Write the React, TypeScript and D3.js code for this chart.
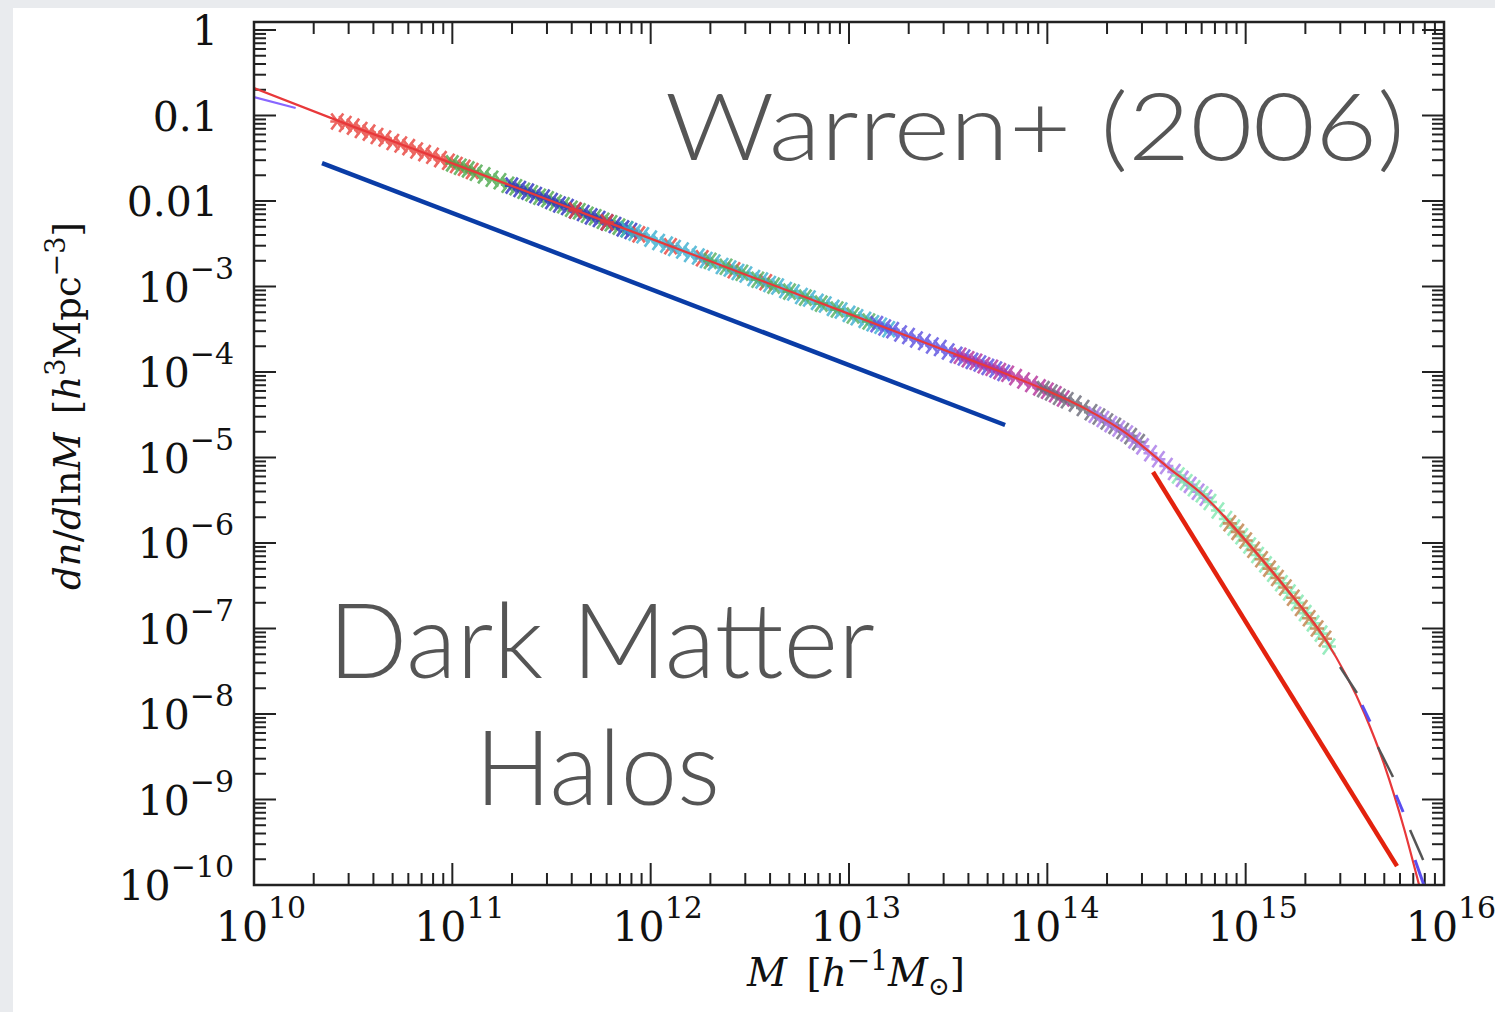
import React, { useEffect, useRef } from 'react';
import * as d3 from 'd3';

const W = 1495, H = 1012;

// all values are log10(M / h^-1 Msun) and log10(dn/dlnM)
const fitCurve: [number, number][] = [
  [10.0, -0.68], [10.5, -1.13], [11.0, -1.56], [11.5, -2.0], [12.0, -2.44], [12.5, -2.88],
  [13.0, -3.32], [13.5, -3.76], [13.8, -4.03], [14.0, -4.22], [14.2, -4.44], [14.4, -4.72],
  [14.6, -5.1], [14.8, -5.47], [15.0, -5.97], [15.2, -6.52], [15.4, -7.12], [15.6, -8.0],
  [15.7, -8.6], [15.8, -9.35], [15.88, -10.05]
];
const purpleStub: [number, number][] = [[10.0, -0.784], [10.21, -0.912]];
const lowSlopeLine: [number, number][] = [[10.343, -1.556], [13.787, -4.62]];
const highSlopeLine: [number, number][] = [[14.533, -5.17], [15.763, -9.78]];

const redA: [number, number][] = [
  [10.42, -1.07], [10.46, -1.1], [10.5, -1.13], [10.54, -1.17], [10.58, -1.2], [10.62, -1.24],
  [10.66, -1.27], [10.7, -1.31], [10.74, -1.34], [10.78, -1.37], [10.82, -1.41], [10.86, -1.44],
  [10.9, -1.47], [10.94, -1.51], [10.98, -1.54], [11.02, -1.58], [11.06, -1.61], [11.1, -1.65]
];
const greenA: [number, number][] = [
  [11.0, -1.56], [11.04, -1.6], [11.08, -1.63], [11.12, -1.67], [11.16, -1.7], [11.2, -1.74],
  [11.24, -1.77], [11.28, -1.81], [11.32, -1.84], [11.36, -1.88], [11.4, -1.91], [11.44, -1.95],
  [11.48, -1.98], [11.52, -2.02], [11.56, -2.05], [11.6, -2.09], [11.64, -2.12], [11.68, -2.16],
  [11.72, -2.19], [11.76, -2.23], [11.8, -2.26], [11.84, -2.3], [11.88, -2.33]
];
const navyA: [number, number][] = [
  [11.3, -1.82], [11.34, -1.86], [11.38, -1.89], [11.42, -1.93], [11.46, -1.96], [11.5, -2.0],
  [11.54, -2.04], [11.58, -2.07], [11.62, -2.11], [11.66, -2.14], [11.7, -2.18], [11.74, -2.21],
  [11.78, -2.25], [11.82, -2.28], [11.86, -2.32], [11.9, -2.35]
];
const redB: [number, number][] = [
  [11.62, -2.11], [11.78, -2.25], [11.94, -2.39], [12.1, -2.53], [12.26, -2.67], [12.42, -2.81], [12.58, -2.95]
];
const cyanA: [number, number][] = [
  [11.88, -2.33], [11.92, -2.37], [11.96, -2.4], [12.0, -2.44], [12.04, -2.48], [12.08, -2.51],
  [12.12, -2.55], [12.16, -2.58], [12.2, -2.62], [12.24, -2.65], [12.28, -2.69], [12.32, -2.72],
  [12.36, -2.76], [12.4, -2.79], [12.44, -2.83], [12.48, -2.86], [12.52, -2.9], [12.56, -2.93],
  [12.6, -2.97], [12.64, -3.0], [12.68, -3.04], [12.72, -3.07], [12.76, -3.11], [12.8, -3.14],
  [12.84, -3.18], [12.88, -3.21], [12.92, -3.25], [12.96, -3.28], [13.0, -3.32], [13.04, -3.36],
  [13.08, -3.39], [13.12, -3.43], [13.16, -3.46], [13.2, -3.5]
];
const greenB: [number, number][] = [
  [12.3, -2.7], [12.38, -2.77], [12.46, -2.84], [12.54, -2.92], [12.62, -2.99], [12.7, -3.06],
  [12.78, -3.13], [12.86, -3.2], [12.94, -3.27], [13.02, -3.34], [13.1, -3.41]
];
const violetA: [number, number][] = [
  [13.14, -3.44], [13.18, -3.48], [13.22, -3.51], [13.26, -3.55], [13.3, -3.58], [13.34, -3.62],
  [13.38, -3.65], [13.42, -3.69], [13.46, -3.72], [13.5, -3.76], [13.54, -3.8], [13.58, -3.83],
  [13.62, -3.87], [13.66, -3.9], [13.7, -3.94], [13.74, -3.97], [13.78, -4.01]
];
const magentaA: [number, number][] = [
  [13.56, -3.81], [13.6, -3.85], [13.64, -3.88], [13.68, -3.92], [13.72, -3.95], [13.76, -3.99],
  [13.8, -4.02], [13.84, -4.06], [13.88, -4.1], [13.92, -4.14], [13.96, -4.18], [14.0, -4.22],
  [14.04, -4.26], [14.08, -4.31]
];
const greyA: [number, number][] = [
  [13.98, -4.2], [14.02, -4.24], [14.06, -4.29], [14.1, -4.33], [14.14, -4.37], [14.18, -4.42],
  [14.22, -4.47], [14.26, -4.52], [14.3, -4.58], [14.34, -4.63], [14.38, -4.69], [14.42, -4.75], [14.46, -4.82]
];
const lavenderA: [number, number][] = [
  [14.24, -4.5], [14.28, -4.55], [14.32, -4.61], [14.36, -4.66], [14.4, -4.72], [14.44, -4.8],
  [14.48, -4.87], [14.52, -4.95], [14.56, -5.02], [14.6, -5.1], [14.64, -5.17], [14.68, -5.25],
  [14.72, -5.32], [14.76, -5.4], [14.8, -5.47]
];
const mintA: [number, number][] = [
  [14.66, -5.21], [14.7, -5.29], [14.74, -5.36], [14.78, -5.43], [14.82, -5.52], [14.86, -5.62],
  [14.9, -5.72], [14.94, -5.82], [14.98, -5.92], [15.02, -6.03], [15.06, -6.14], [15.1, -6.25],
  [15.14, -6.36], [15.18, -6.47], [15.22, -6.58], [15.26, -6.7], [15.3, -6.82], [15.34, -6.94],
  [15.38, -7.06], [15.42, -7.21]
];
const orangeA: [number, number][] = [
  [14.92, -5.77], [14.96, -5.87], [15.0, -5.97], [15.04, -6.08], [15.08, -6.19], [15.12, -6.3],
  [15.16, -6.41], [15.2, -6.52], [15.24, -6.64], [15.28, -6.76], [15.32, -6.88], [15.36, -7.0],
  [15.4, -7.12]
];

// short pieces at the massive end: [logM1, logN1, logM2, logN2]
const tailBlack: number[][] = [
  [15.476, -7.45, 15.561, -7.755], [15.667, -8.386, 15.743, -8.737], [15.829, -9.357, 15.895, -9.708]
];
const tailBlue: number[][] = [
  [15.587, -7.895, 15.627, -8.09], [15.758, -8.947, 15.794, -9.146], [15.854, -9.708, 15.92, -10.14]
];

const markerSets = [
  { pts: redA, color: '#e8403a' },
  { pts: greenA, color: '#4aa84a' },
  { pts: navyA, color: '#2b2fc0' },
  { pts: redB, color: '#e8403a' },
  { pts: cyanA, color: '#3aaed0' },
  { pts: greenB, color: '#55b060' },
  { pts: violetA, color: '#5a4ee0' },
  { pts: magentaA, color: '#b5309a' },
  { pts: greyA, color: '#6a6a78' },
  { pts: lavenderA, color: '#a878e8' },
  { pts: mintA, color: '#80e8b0' },
  { pts: orangeA, color: '#c08048' },
];

const xExps = [10, 11, 12, 13, 14, 15, 16];
const yExps = [0, -1, -2, -3, -4, -5, -6, -7, -8, -9, -10];
const yDecimals: Record<number, string> = { 0: '1', [-1]: '0.1', [-2]: '0.01' };

const App = () => {
  const ref = useRef<SVGSVGElement>(null);

  useEffect(() => {
    const svg = d3.select(ref.current);
    svg.selectAll('*').remove();

    const left = 254, right = 1444, top = 22, bottom = 885;
    const x = d3.scaleLog().domain([1e10, 1e16]).range([left, right]);
    // decade of 85.5px, frame top sits slightly above 1
    const y = d3.scaleLog().domain([1e-10, 1]).range([bottom, 30]);
    const px = (d: number[]) => x(Math.pow(10, d[0]));
    const py = (d: number[]) => y(Math.pow(10, d[1]));

    svg.append('rect').attr('width', W).attr('height', H).attr('fill', '#e9ebee');
    svg.append('rect').attr('x', 13).attr('y', 8).attr('width', W - 13).attr('height', H - 8).attr('fill', '#ffffff');

    svg.append('defs').append('clipPath').attr('id', 'plotclip')
      .append('rect').attr('x', left).attr('y', top).attr('width', right - left).attr('height', bottom - top);

    // ticks on all four sides
    const isMajor = (t: number) => Math.abs(Math.log10(t) - Math.round(Math.log10(t))) < 1e-6;
    const ticks = svg.append('g').attr('stroke', '#222').attr('stroke-width', 2);
    x.ticks(30).forEach(t => {
      const len = isMajor(t) ? 22 : 12;
      const xx = x(t);
      if (xx <= left + 1 || xx >= right - 1) return;
      ticks.append('line').attr('x1', xx).attr('x2', xx).attr('y1', bottom).attr('y2', bottom - len);
      ticks.append('line').attr('x1', xx).attr('x2', xx).attr('y1', top).attr('y2', top + len);
    });
    y.ticks(30).forEach(t => {
      const len = isMajor(t) ? 22 : 12;
      const yy = y(t);
      if (yy >= bottom - 1 || yy <= top) return;
      ticks.append('line').attr('x1', left).attr('x2', left + len).attr('y1', yy).attr('y2', yy);
      ticks.append('line').attr('x1', right).attr('x2', right - len).attr('y1', yy).attr('y2', yy);
    });

    const plot = svg.append('g').attr('clip-path', 'url(#plotclip)');
    const line = d3.line<number[]>().x(px).y(py);

    // simulation points
    markerSets.forEach(s => {
      const g = plot.append('g').attr('stroke', s.color).attr('stroke-width', 2.6).attr('opacity', 0.8).attr('fill', 'none');
      g.selectAll('path').data(s.pts).join('path')
        .attr('transform', d => `translate(${px(d)},${py(d)})`)
        .attr('d', 'M-6,-8L6,8M-6,8L6,-8M-7,0L7,0');
    });

    plot.append('path').datum(fitCurve).attr('d', line.curve(d3.curveMonotoneX))
      .attr('fill', 'none').attr('stroke', '#e8383a').attr('stroke-width', 2.2);
    plot.append('path').datum(purpleStub).attr('d', d3.line<number[]>().x(px).y(py))
      .attr('fill', 'none').attr('stroke', '#8866ff').attr('stroke-width', 2.2);

    tailBlack.forEach(d => {
      plot.append('line').attr('x1', px([d[0], d[1]])).attr('y1', py([d[0], d[1]]))
        .attr('x2', px([d[2], d[3]])).attr('y2', py([d[2], d[3]]))
        .attr('stroke', '#555').attr('stroke-width', 2.5);
    });
    tailBlue.forEach(d => {
      plot.append('line').attr('x1', px([d[0], d[1]])).attr('y1', py([d[0], d[1]]))
        .attr('x2', px([d[2], d[3]])).attr('y2', py([d[2], d[3]]))
        .attr('stroke', '#5a4ef0').attr('stroke-width', 3);
    });

    // power-law guides
    svg.append('path').datum(lowSlopeLine).attr('d', d3.line<number[]>().x(px).y(py))
      .attr('fill', 'none').attr('stroke', '#0a3ca6').attr('stroke-width', 4.5);
    svg.append('path').datum(highSlopeLine).attr('d', d3.line<number[]>().x(px).y(py))
      .attr('fill', 'none').attr('stroke', '#e3220e').attr('stroke-width', 4.5);

    svg.append('rect').attr('x', left).attr('y', top).attr('width', right - left).attr('height', bottom - top)
      .attr('fill', 'none').attr('stroke', '#222').attr('stroke-width', 2.5);

    // tick labels
    const serif = "'DejaVu Serif', serif";
    yExps.forEach(e => {
      const yy = y(Math.pow(10, e));
      if (yDecimals[e] !== undefined) {
        svg.append('text').attr('x', 218).attr('y', yy + 15).attr('text-anchor', 'end')
          .attr('font-family', serif).attr('font-size', 41).attr('fill', '#111').text(yDecimals[e]);
      } else {
        const t = svg.append('text').attr('x', 234).attr('y', yy + 15).attr('text-anchor', 'end')
          .attr('font-family', serif).attr('font-size', 41).attr('fill', '#111');
        t.append('tspan').text('10');
        t.append('tspan').attr('dy', -23).attr('font-size', 30).text('\u2212' + Math.abs(e));
      }
    });
    xExps.forEach(e => {
      const t = svg.append('text').attr('x', x(Math.pow(10, e)) + 7).attr('y', 941).attr('text-anchor', 'middle')
        .attr('font-family', serif).attr('font-size', 41).attr('fill', '#111');
      t.append('tspan').text('10');
      t.append('tspan').attr('dy', -23).attr('font-size', 30).text(String(e));
    });

    // axis titles
    const xt = svg.append('text').attr('x', 856).attr('y', 986).attr('text-anchor', 'middle')
      .attr('font-family', serif).attr('font-size', 39).attr('fill', '#111');
    xt.append('tspan').attr('font-style', 'italic').text('M');
    xt.append('tspan').text('\u2002[');
    xt.append('tspan').attr('font-style', 'italic').text('h');
    xt.append('tspan').attr('dy', -16).attr('font-size', 28).text('\u22121');
    xt.append('tspan').attr('dy', 16).attr('font-style', 'italic').text('M');
    xt.append('tspan').attr('dy', 9).attr('font-size', 26).text('\u2299');
    xt.append('tspan').attr('dy', -9).text(']');

    const yt = svg.append('text').attr('transform', 'translate(80,406) rotate(-90)').attr('text-anchor', 'middle')
      .attr('font-family', serif).attr('font-size', 37).attr('fill', '#111');
    yt.append('tspan').attr('font-style', 'italic').text('dn');
    yt.append('tspan').text('/');
    yt.append('tspan').attr('font-style', 'italic').text('d');
    yt.append('tspan').text('ln');
    yt.append('tspan').attr('font-style', 'italic').text('M');
    yt.append('tspan').text('\u2002[');
    yt.append('tspan').attr('font-style', 'italic').text('h');
    yt.append('tspan').attr('dy', -15).attr('font-size', 27).text('3');
    yt.append('tspan').attr('dy', 15).text('Mpc');
    yt.append('tspan').attr('dy', -15).attr('font-size', 27).text('\u22123');
    yt.append('tspan').attr('dy', 15).text(']');

    // slide annotations
    const sans = "Lato, 'Open Sans', sans-serif";
    const notes = [
      { text: 'Warren+ (2006)', x: 665, y: 160, size: 92, len: 740 },
      { text: 'Dark Matter', x: 328, y: 678, size: 104, len: 547 },
      { text: 'Halos', x: 475, y: 805, size: 104, len: 245 },
    ];
    notes.forEach(n => {
      svg.append('text').attr('x', n.x).attr('y', n.y).attr('font-family', sans).attr('font-weight', 300)
        .attr('font-size', n.size).attr('fill', '#555').attr('textLength', n.len)
        .attr('lengthAdjust', 'spacingAndGlyphs').text(n.text);
    });
  }, []);

  return <svg ref={ref} width={W} height={H} style={{ position: 'absolute', left: 0, top: 0, display: 'block' }} />;
};

export default App;
